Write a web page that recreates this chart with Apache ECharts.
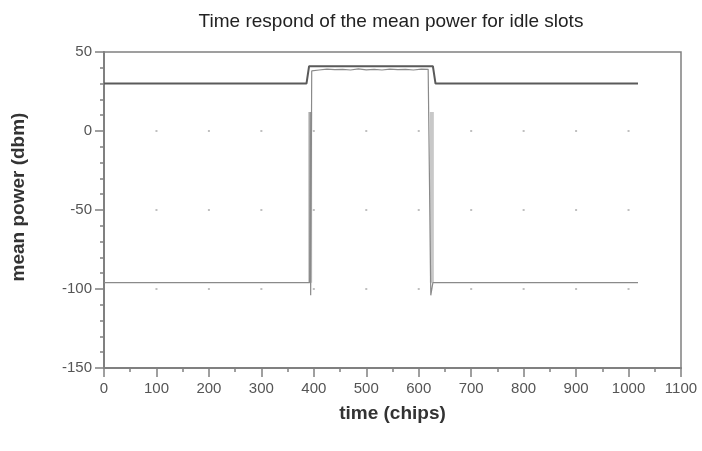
<!DOCTYPE html>
<html>
<head>
<meta charset="utf-8">
<script src="https://cdn.jsdelivr.net/npm/echarts@6/dist/echarts.min.js"></script>
<style>
  html, body { margin: 0; padding: 0; background: #fff; }
  #chart { width: 702px; height: 451px; }
</style>
</head>
<body>
<div id="chart"></div>
<script>
// Axis ticks
const xTicks = [0, 100, 200, 300, 400, 500, 600, 700, 800, 900, 1000, 1100];
const yTicks = [-150, -100, -50, 0, 50];

// Envelope of the mean power (dark trace)
const envTime = [0, 386, 391, 627, 632, 1018];
const envPower = [30, 30, 41, 41, 30, 30];

// Measured mean power per chip (gray trace)
const measTime = [0, 53, 55, 59, 61, 93, 95, 100, 102, 170, 172, 230, 290, 300, 302, 330, 392, 393, 394, 396, 398,
  410, 425, 440, 455, 470, 485, 500, 515, 530, 545, 560, 575, 590, 605, 618, 621, 623, 627,
  660, 662, 700, 702, 720, 722, 760, 762, 790, 792, 800, 802, 870, 872, 900, 902, 960, 962, 1000, 1002, 1018];
const measPower = [-96, -96, -95, -96, -97, -96, -95, -96, -97, -96, -95, -96, -96, -96, -97, -96, -96, 12, -104, 38, 39,
  38.6, 39.2, 38.8, 39, 38.6, 39.3, 38.7, 39, 38.6, 39.2, 38.8, 39, 38.6, 39.2, 39, 39, -104, -96,
  -96, -95, -96, -97, -96, -95, -96, -95, -96, -97, -96, -95, -96, -95, -96, -97, -96, -95, -96, -97, -96];

// Switching transients (light band at both edges of the slot)
const edgeTime = [393, 393, null, 625, 625];
const edgePower = [-96, 12, null, 12, -96];

const zip = (xs, ys) => xs.map((x, i) => (x === null ? [null, null] : [x, ys[i]]));

// faint reference dots at inner grid intersections
const gridDots = [];
xTicks.slice(1, -1).forEach(x => yTicks.slice(1, -1).forEach(y => gridDots.push([x, y])));

const axisColor = '#808080';
const labelFont = 'Liberation Sans, Arial, sans-serif';

const chart = echarts.init(document.getElementById('chart'), null, { renderer: 'canvas' });
chart.setOption({
  animation: false,
  backgroundColor: '#ffffff',
  title: {
    text: 'Time respond of the mean power for idle slots',
    left: 386,
    textAlign: 'center',
    top: 7,
    textStyle: { fontFamily: labelFont, fontSize: 19, fontWeight: 'normal', color: '#222' }
  },
  grid: {
    left: 104, right: 21, top: 52, bottom: 83,
    show: true, borderColor: axisColor, borderWidth: 1.5
  },
  xAxis: {
    type: 'value',
    min: 0, max: 1100, interval: 100,
    name: 'time (chips)',
    nameLocation: 'middle',
    nameGap: 36,
    nameTextStyle: { fontFamily: labelFont, fontSize: 19, fontWeight: 'bold', color: '#333' },
    axisLine: { show: true, onZero: false, lineStyle: { color: axisColor, width: 2 } },
    axisTick: { show: true, inside: false, length: 9, lineStyle: { color: axisColor, width: 1.5 } },
    minorTick: { show: true, splitNumber: 2, length: 4, lineStyle: { color: axisColor, width: 1.5 } },
    axisLabel: {
      fontFamily: labelFont, fontSize: 15, color: '#555', margin: 13,
      formatter: v => (xTicks.includes(v) ? String(v) : '')
    },
    splitLine: { show: false }
  },
  yAxis: {
    type: 'value',
    min: -150, max: 50, interval: 50,
    name: 'mean power (dbm)',
    nameLocation: 'middle',
    nameGap: 76,
    nameRotate: 90,
    nameTextStyle: {
      fontFamily: labelFont, fontSize: 19, fontWeight: 'bold', color: '#333',
      padding: [0, 0, 0, 26]
    },
    axisLine: { show: true, onZero: false, lineStyle: { color: axisColor, width: 2 } },
    axisTick: { show: true, inside: false, length: 9, lineStyle: { color: axisColor, width: 1.5 } },
    minorTick: { show: true, splitNumber: 5, length: 4, lineStyle: { color: axisColor, width: 1.5 } },
    axisLabel: {
      fontFamily: labelFont, fontSize: 15, color: '#555', margin: 12,
      formatter: v => (yTicks.includes(v) ? String(v) : '')
    },
    splitLine: { show: false }
  },
  series: [
    {
      type: 'scatter',
      data: gridDots,
      symbol: 'rect',
      symbolSize: 2,
      itemStyle: { color: '#b0b0b0' },
      silent: true,
      z: 1
    },
    {
      type: 'line',
      data: zip(edgeTime, edgePower),
      connectNulls: false,
      showSymbol: false,
      lineStyle: { color: '#c8c8c8', width: 4 },
      silent: true,
      z: 2
    },
    {
      type: 'line',
      data: zip(measTime, measPower),
      showSymbol: false,
      lineStyle: { color: '#8a8a8a', width: 1.2 },
      silent: true,
      z: 3
    },
    {
      type: 'line',
      data: zip(envTime, envPower),
      showSymbol: false,
      lineStyle: { color: '#5a5a5a', width: 2 },
      silent: true,
      z: 4
    }
  ]
});
</script>
</body>
</html>
